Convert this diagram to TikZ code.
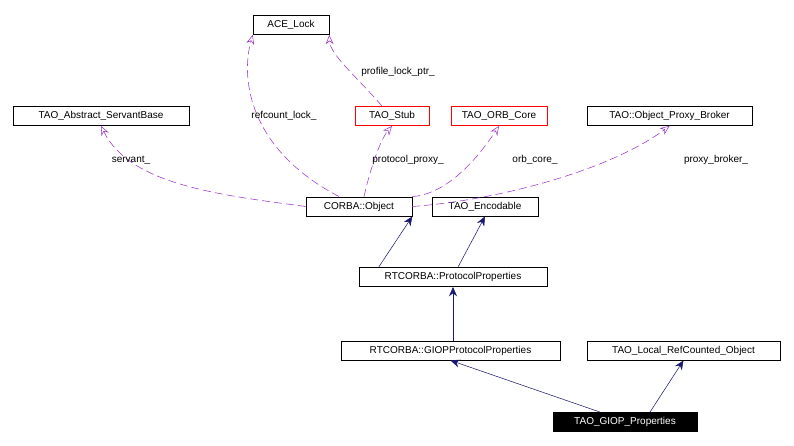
\documentclass[tikz,border=0pt]{standalone}
\usepackage{fontspec}
\setmainfont{Liberation Sans}
\usetikzlibrary{arrows.meta}
\begin{document}
\begin{tikzpicture}[x=0.75pt,y=-0.75pt,
  box/.style={draw=black,fill=white,inner sep=0pt,minimum height=14.5pt,font=\fontsize{7.5}{9}\selectfont},
  redbox/.style={box,draw=red},
  lbl/.style={font=\fontsize{7.5}{9}\selectfont,inner sep=1pt},
  inh/.style={draw=midnightblue,-{Stealth[length=7pt,width=6pt]}},
  use/.style={draw=dpurple,dashed,dash pattern=on 6pt off 3pt,-{Stealth[length=7pt,width=6pt,open]}}]
\definecolor{midnightblue}{RGB}{25,25,112}
\definecolor{dpurple}{RGB}{153,50,204}
\useasboundingbox (0,0) rectangle (794,446);
\node[box,minimum width=57pt] (ace) at (291,25) {ACE\_Lock};
\node[box,minimum width=132pt] (asb) at (101,116) {TAO\_Abstract\_ServantBase};
\node[redbox,minimum width=55.5pt] (stub) at (392,116) {TAO\_Stub};
\node[redbox,minimum width=72pt] (orb) at (499,116) {TAO\_ORB\_Core};
\node[box,minimum width=124pt] (opb) at (669.5,116) {TAO::Object\_Proxy\_Broker};
\node[box,minimum width=79.5pt] (obj) at (359,206.5) {CORBA::Object};
\node[box,minimum width=79.5pt] (enc) at (485,206.5) {TAO\_Encodable};
\node[box,minimum width=141pt] (pp) at (453,277) {RTCORBA::ProtocolProperties};
\node[box,minimum width=164pt] (gpp) at (450.5,350.5) {RTCORBA::GIOPProtocolProperties};
\node[box,minimum width=145pt] (lrc) at (683.5,350.5) {TAO\_Local\_RefCounted\_Object};
\node[box,fill=black,text=white,minimum width=108pt] (gp) at (625,422) {TAO\_GIOP\_Properties};
\draw[inh] (pp.north west) ++(20,0) coordinate (a1) (a1) -- (obj.south east);
\draw[inh] (pp.north) ++(5,0) -- (enc.south);
\draw[inh] (pp |- gpp.north) -- (pp.south);
\draw[inh] (gp.north) ++(-25,0) -- (gpp.south);
\draw[inh] (gp.north) ++(25,0) -- (lrc.south);
\draw[use] (obj.west) .. controls (220,195) and (130,185) .. (asb.south);
\draw[use] (obj.north) ++(-20,0) .. controls (250,150) and (240,80) .. (ace.south west) ;
\draw[use] (stub.north) ++(-10,0) .. controls (360,80) and (330,55) .. (ace.south east);
\draw[use] (obj.north) ++(5,0) .. controls (370,170) and (380,140) .. (stub.south);
\draw[use] (obj.north east) .. controls (440,195) and (470,170) .. (orb.south);
\draw[use] (obj.east) .. controls (500,200) and (610,170) .. (opb.south);
\node[lbl] at (131,160) {servant\_};
\node[lbl] at (284,116) {refcount\_lock\_};
\node[lbl] at (398,72) {profile\_lock\_ptr\_};
\node[lbl] at (408,160) {protocol\_proxy\_};
\node[lbl] at (535,160) {orb\_core\_};
\node[lbl] at (716,160) {proxy\_broker\_};
\end{tikzpicture}
\end{document}
